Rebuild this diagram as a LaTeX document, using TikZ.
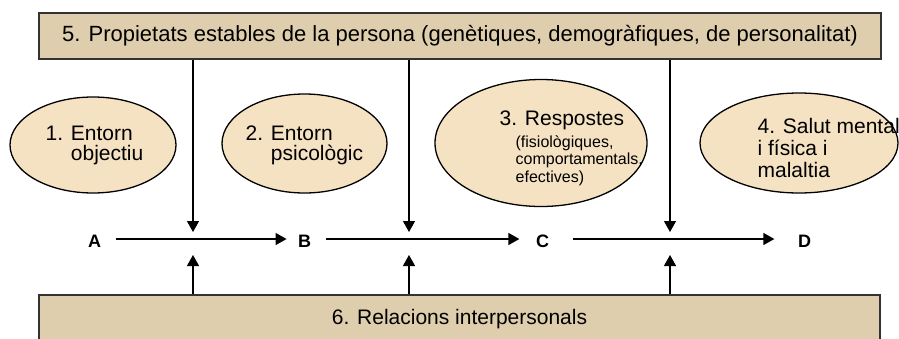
\documentclass[tikz,border=0pt]{standalone}
\usepackage{fontspec}
\setmainfont{Liberation Sans}
\usetikzlibrary{arrows.meta,shapes.geometric}
\definecolor{boxtan}{HTML}{DFCEAD}
\definecolor{ovalfill}{HTML}{F5E2C3}

\begin{document}
\begin{tikzpicture}[x=1pt,y=-1pt,>={Triangle[length=11pt,width=12pt]},line width=1.3pt,
  band/.style={draw=black!80,fill=boxtan,line width=1.6pt,inner sep=0pt,font=\fontsize{22}{26}\selectfont},
  oval/.style={ellipse,draw,fill=ovalfill,line width=1.3pt,inner sep=0pt},
  oval text/.style={anchor=base west,align=left,inner sep=0pt,font=\fontsize{21}{20}\selectfont},
  letter/.style={inner sep=0pt,font=\bfseries\fontsize{18}{20}\selectfont}]

  \useasboundingbox (0,0) rectangle (899,338);

  \node[band,minimum width=842pt,minimum height=46pt] (props) at (460,36)
    {5. Propietats estables de la persona (genètiques, demogràfiques, de personalitat)};
  \node[band,minimum width=841pt,minimum height=49pt,font=\fontsize{21}{24}\selectfont] (rel) at (459.5,319.5)
    {6. Relacions interpersonals};

  \node[oval,minimum width=166pt,minimum height=96pt] (e1) at (93,145) {};
  \node[oval,minimum width=165pt,minimum height=99pt] (e2) at (304.5,143.5) {};
  \node[oval,minimum width=212pt,minimum height=127pt] (e3) at (541,143) {};
  \node[oval,minimum width=198pt,minimum height=100pt] (e4) at (799,143) {};

  \node[oval text] (t1) at (45,160) {1. Entorn\\\hphantom{1. }objectiu};
  \node[oval text] (t2) at (245,160) {2. Entorn\\\hphantom{2. }psicològic};
  \node[oval text] (t3) at (499,125) {3. Respostes};
  \node[oval text,font=\fontsize{16}{17.5}\selectfont] (t3b) at (515,182)
    {(fisiològiques,\\comportamentals,\\efectives)};
  \node[oval text,font=\fontsize{21}{22}\selectfont] (t4) at (757,177)
    {4. Salut mental\\i física i\\malaltia};

  \node[letter] (A) at (94.5,241) {A};
  \node[letter] (B) at (304.7,241) {B};
  \node[letter] (C) at (542.5,241) {C};
  \node[letter] (D) at (804.5,241) {D};

  \foreach \x [count=\i] in {193,409,670} {
    \coordinate (j\i) at (\x,239);
    \draw[->] (props.south -| j\i) -- ([yshift=7pt]j\i);
    \draw[->] (rel.north -| j\i) -- ([yshift=-16pt]j\i);
  }

  \path[->]
  (A.east |- j1) edge[shorten <=14pt,shorten >=11pt] (B.west |- j1)
  (B.east |- j2) edge[shorten <=14pt,shorten >=16pt] (C.west |- j2)
  (C.east |- j3) edge[shorten <=23pt,shorten >=23pt] (D.west |- j3);

\end{tikzpicture}
\end{document}
